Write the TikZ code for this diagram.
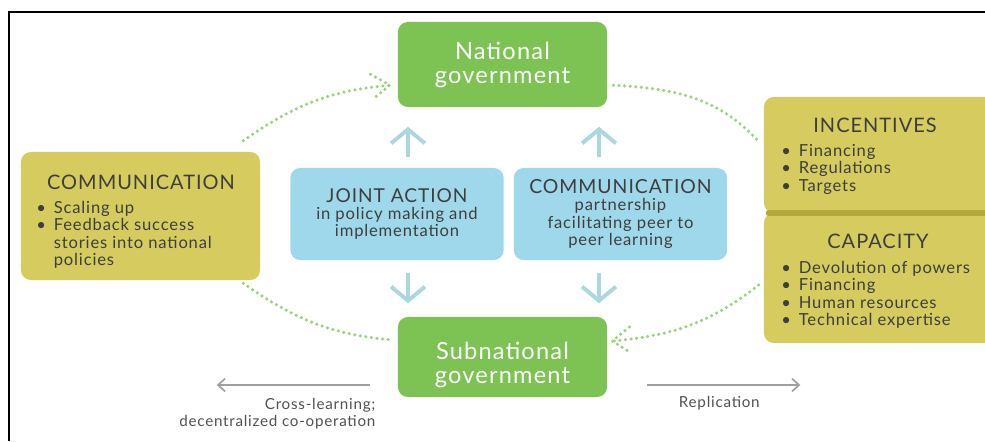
\documentclass[tikz,border=0pt]{standalone}
\usepackage{fontspec}
\setmainfont{Lato}[LetterSpace=5]
\usetikzlibrary{calc,arrows.meta}
\definecolor{govgreen}{RGB}{125,195,83}
\definecolor{olive}{RGB}{213,203,95}
\definecolor{darkolive}{RGB}{178,170,62}
\definecolor{skyblue}{RGB}{160,216,235}
\definecolor{teal}{RGB}{170,216,222}
\definecolor{dotgreen}{RGB}{158,210,130}
\definecolor{textgray}{RGB}{62,62,62}
\definecolor{arrgray}{RGB}{160,160,160}
\newcommand{\bul}{\makebox[12.5pt][l]{\textbullet}}
\newcommand{\bulgap}{\hspace*{12.5pt}}
\newcommand{\hdfont}{\fontsize{14.2}{16}\selectfont}
\newcommand{\bodyfont}{\fontsize{11.8}{12.4}\selectfont}

\begin{document}
\begin{tikzpicture}[x=0.025cm,y=0.025cm,
  govbox/.style={fill=govgreen,rounded corners=7pt,minimum width=5.225cm},
  govtext/.style={text=white,align=center,inner sep=0pt,font=\fontsize{16.8}{16.5}\selectfont},
  bluebox/.style={fill=skyblue,rounded corners=7pt,text=textgray,align=center,
    font=\bodyfont,minimum width=5.33cm,minimum height=2.3cm},
  olivebox/.style={fill=olive,rounded corners=7pt},
  hdtext/.style={text=textgray,font=\hdfont,inner sep=0pt},
  listtext/.style={text=textgray,font=\bodyfont,align=left,inner sep=0pt,anchor=north west},
  dotline/.style={dotgreen,line width=2.5pt,line cap=round,dash pattern=on 0pt off 4pt},
  bluearr/.style={teal,line width=2.8pt,-{Straight Barb[length=10pt,width=24pt]}},
  grayarr/.style={arrgray,line width=1.2pt,-{Straight Barb[length=5pt,width=9pt]}},
  labeltext/.style={text=textgray!90,font=\fontsize{10.8}{12.3}\selectfont,inner sep=0pt}]
\useasboundingbox (0,0) rectangle (985,441);
\draw[line width=1.6pt] (9,0) -- (9,429) -- (985,429);

% government boxes
\node[govbox,minimum height=2.125cm] (nat) at (502.5,376.5) {};
\node[govtext] (nattxt) at (502.5,376) {National\\government};
\node[govbox,minimum height=2cm] (sub) at (502.5,84) {};
\node[govtext] (subtxt) at (502.5,76) {Subnational\\government};

% middle boxes
\node[bluebox] (joint) at (397,227) {{\fontsize{13.6}{15}\selectfont JOINT ACTION}\\in policy making and\\implementation};
\node[bluebox] (commM) at (620.5,227) {{\fontsize{13.8}{14.5}\selectfont COMMUNICATION}\\partnership\\facilitating peer to\\peer learning};

% side boxes
\node[olivebox,minimum width=5.975cm,minimum height=3.2cm] (commL) at (140.5,225) {};
\node[hdtext] (commLhd) at (141,259) {COMMUNICATION};
\node[listtext] (commLls) at (36,240) {\bul Scaling up\\\bul Feedback success\\\bulgap stories into national\\\bulgap policies};

\node[olivebox,minimum width=5.775cm,minimum height=2.9cm] (incent) at (879.5,286) {};
\node[olivebox,minimum width=5.775cm,minimum height=3.25cm] (capac) at (879.5,163) {};
\draw[darkolive,line width=4.3pt,line cap=round] ($(incent.south west)+(5,0)$) -- (incent.south east);
\node[hdtext] (incenthd) at (875,316) {INCENTIVES};
\node[listtext] (incentls) at (781,297) {\bul Financing\\\bul Regulations\\\bul Targets};
\node[hdtext] (capachd) at (878,200) {CAPACITY};
\node[listtext] (capacls) at (781,180) {\bul Devolution of powers\\\bul Financing\\\bul Human resources\\\bul Technical expertise};

% blue arrows
\draw[bluearr] ($(joint.north)+(11,11)$) -- ++(0,30);
\draw[bluearr] ($(commM.north)+(-21.5,11)$) -- ++(0,30);
\draw[bluearr] ($(joint.south)+(11,-13)$) -- ++(0,-30);
\draw[bluearr] ($(commM.south)+(-21.5,-13)$) -- ++(0,-30);

% dotted loop
\coordinate (tipN) at ($(nat.south west)+(-8,22)$);
\coordinate (tipS) at ($(sub.east)+(5,16)$);
\draw[dotline] ($(commL.north east)+(-17,11)$) to[out=35,in=185] (tipN);
\draw[dotline] ($(tipN)+(-19,11)$) -- (tipN) -- ($(tipN)+(-17,-14)$);
\draw[dotline] ($(nat.south east)+(6,22)$) to[out=-3,in=132] ($(incent.north west)+(-4,-46)$);
\draw[dotline] ($(commL.south east)+(-17,-3)$) to[out=-35,in=175] ($(sub.west)+(-5,17)$);
\draw[dotline] ($(capac.west)+(-5,-7)$) to[out=218,in=5] (tipS);
\draw[dotline] ($(tipS)+(17,14)$) -- (tipS) -- ($(tipS)+(19,-12)$);

% spreading arrows
\draw[grayarr] ($(sub.west)+(-28,-28)$) -- ++(-153,0);
\draw[grayarr] ($(sub.east)+(40,-28)$) -- ++(153,0);
\node[labeltext,align=right,anchor=north east] (crossl) at ($(sub.west)+(-22,-41)$) {Cross-learning;\\decentralized co-operation};
\node[labeltext,anchor=base] (repl) at ($(sub.east)+(112,-50)$) {Replication};
\end{tikzpicture}
\end{document}
